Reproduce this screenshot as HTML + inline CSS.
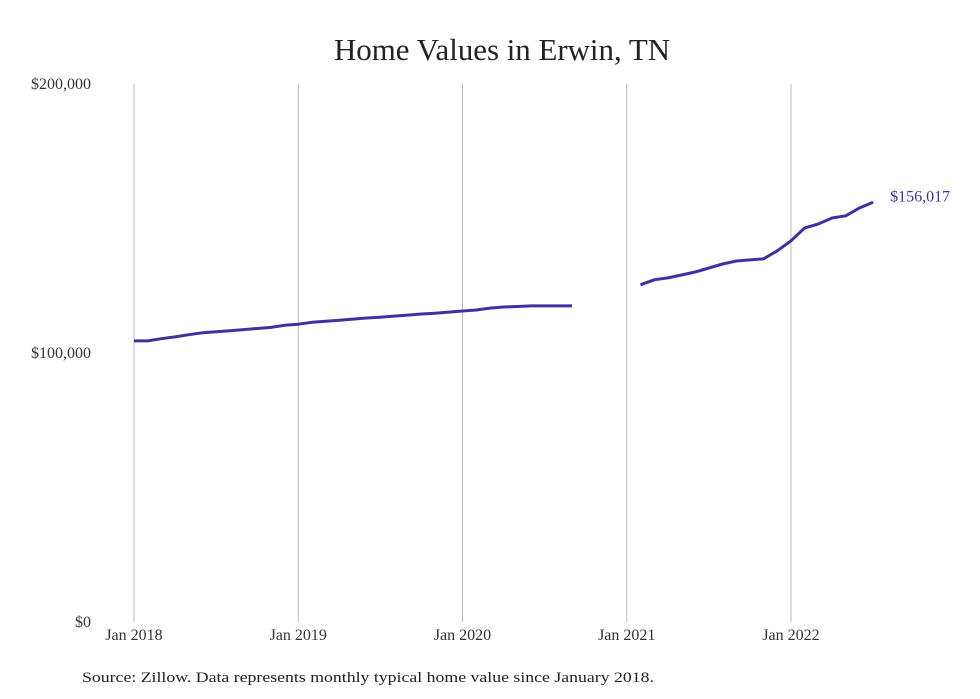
<!DOCTYPE html>
<html><head><meta charset="utf-8"><style>
body{margin:0;background:#fff;}
svg{display:block;font-family:"Liberation Serif",serif;}
</style></head><body>
<svg id="chart" width="980" height="699" viewBox="0 0 980 699">
<text x="334" y="60" font-size="31" textLength="336" lengthAdjust="spacingAndGlyphs" fill="#222">Home Values in Erwin, TN</text>
<g id="grid"></g><g id="yaxis"></g><g id="xaxis"></g><g id="lines"></g>
<text x="82" y="682" font-size="15" textLength="572" lengthAdjust="spacingAndGlyphs" fill="#222">Source: Zillow. Data represents monthly typical home value since January 2018.</text>
</svg>
<script>
const yTicks=[0,100000,200000];
const yTickLabels=["$0","$100,000","$200,000"];
const xTickMonths=[0,12,24,36,48];
const xTickLabels=["Jan 2018","Jan 2019","Jan 2020","Jan 2021","Jan 2022"];
const series1Start=0;
const series1=[104500,104500,105300,106000,106800,107500,107900,108300,108700,109100,109500,110300,110700,111400,111800,112200,112600,113000,113300,113700,114100,114500,114800,115200,115600,116000,116700,117100,117300,117500,117500,117500,117500];
const series2Start=37;
const series2=[125300,127200,127900,129000,130100,131600,133100,134200,134600,135000,138000,141700,146500,148000,150200,151000,153900,156017];
const endLabel="$156,017";
const ns="http://www.w3.org/2000/svg";
const x=m=>134+m*(657/48);
const y=v=>622-v*(538/200000);
function mk(tag,attrs,parent){const e=document.createElementNS(ns,tag);for(const k in attrs)e.setAttribute(k,attrs[k]);parent.appendChild(e);return e;}
const grid=document.getElementById('grid'),ya=document.getElementById('yaxis'),xa=document.getElementById('xaxis'),ln=document.getElementById('lines');
xTickMonths.forEach((m,i)=>{
 const g=mk('line',{x1:x(m),x2:x(m),y1:y(200000),y2:y(0),stroke:'#bbb','stroke-width':1},grid);
 
 
 const t=mk('text',{x:x(m),y:640,'text-anchor':'middle','font-size':16,fill:'#333'},xa);
 t.textContent=xTickLabels[i];
 
 
});
yTicks.forEach((v,i)=>{
 const t=mk('text',{x:91,y:y(v)+5,'text-anchor':'end','font-size':16,fill:'#333'},ya);
 t.textContent=yTickLabels[i];
 
 
});
function path(data,start,name){
 const d=data.map((v,i)=>(i?'L':'M')+x(start+i).toFixed(1)+','+y(v).toFixed(1)).join('');
 const p=mk('path',{d:d,fill:'none',stroke:'#3d33a0','stroke-width':3,'stroke-linejoin':'round'},ln);
 
 
}
path(series1,series1Start,'home-value-line-2018-2020');
path(series2,series2Start,'home-value-line-2021-2022');
const last=series2[series2.length-1];
const lt=mk('text',{x:x(series2Start+series2.length-1)+17,y:y(last)-1,'font-size':16,fill:'#3d33a0'},ln);
lt.textContent=endLabel;


</script>
</body></html>
